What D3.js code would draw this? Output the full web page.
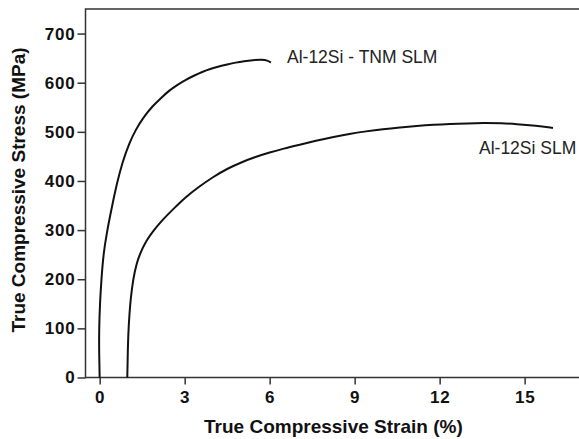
<!DOCTYPE html>
<html lang="en">
<head>
<meta charset="utf-8" />
<title>True compressive stress-strain</title>
<style>
  body { margin: 0; padding: 0; background: #fff; font-family: "Liberation Sans", Arial, sans-serif; }
  .axis path, .axis line { stroke: #333; stroke-width: 1.5px; }
  .axis text { font-family: "Liberation Sans", Arial, sans-serif; font-weight: bold; font-size: 17px; letter-spacing: 0.8px; fill: #111; }
  .curve { fill: none; stroke: #111; stroke-width: 2px; }
  .title { font-weight: bold; font-size: 19px; fill: #111; }
  .label { font-size: 17.5px; fill: #222; }
</style>
</head>
<body>
<div id="chart"></div>
<script src="https://d3js.org/d3.v7.min.js"></script>
<script>
// strain (%) and stress (MPa)
const tnmStrain = [0, -0.02, -0.02, 0.01, 0.06, 0.14, 0.25, 0.35, 0.45, 0.6, 0.8, 1.05, 1.27, 1.55, 1.86, 2.15, 2.45, 2.75, 3.04, 3.35, 3.62, 3.9, 4.21, 4.5, 4.8, 5.1, 5.39, 5.74, 5.92, 6.04];
const tnmStress = [0, 50, 100, 150, 200, 255, 293, 324, 352, 393, 438, 478, 504, 530, 552, 568, 584, 596, 606, 615, 622, 628, 633, 637, 641, 644, 646, 647, 645.5, 641];

const slmStrain = [0.975, 0.99, 1.01, 1.05, 1.09, 1.18, 1.3, 1.45, 1.65, 1.86, 2.1, 2.39, 2.7, 3.0, 3.5, 4.0, 4.5, 5.0, 5.5, 6.0, 6.5, 7.0, 7.65, 8.2, 8.82, 9.4, 10.0, 10.6, 11.18, 11.8, 12.35, 13.0, 13.53, 14.2, 14.7, 15.4, 16.0];
const slmStress = [0, 45, 90, 128, 158, 200, 232, 256, 279, 296, 313, 331, 348.5, 365.5, 388, 408, 425, 438, 449, 458, 466, 473, 482, 489, 496, 501, 505.5, 509, 512, 514.5, 516, 517.3, 518, 517.5, 516, 512.5, 508];

const xTicks = [0, 3, 6, 9, 12, 15];
const yTicks = [0, 100, 200, 300, 400, 500, 600, 700];

const width = 579, height = 439;
const m = { left: 85.5, top: 9, right: 581.3, bottom: 377.5 };

const svg = d3.select('#chart').append('svg')
    .attr('width', width)
    .attr('height', height);

const x = d3.scaleLinear().domain([-0.5, 17]).range([m.left, m.right]);
const y = d3.scaleLinear().domain([0, 750]).range([m.bottom, m.top]);

// frame
svg.append('rect')
    .attr('x', m.left).attr('y', m.top)
    .attr('width', m.right - m.left).attr('height', m.bottom - m.top)
    .attr('fill', 'none').attr('stroke', '#333').attr('stroke-width', 1.5);

svg.append('g')
    .attr('class', 'axis')
    .attr('transform', `translate(0,${m.bottom})`)
    .call(d3.axisBottom(x).tickValues(xTicks).tickSize(7).tickSizeOuter(0).tickPadding(6))
    .call(g => g.select('.domain').remove());

svg.append('g')
    .attr('class', 'axis')
    .attr('transform', `translate(${m.left},0)`)
    .call(d3.axisLeft(y).tickValues(yTicks).tickSize(8).tickSizeOuter(0).tickPadding(2))
    .call(g => g.select('.domain').remove());

const line = d3.line()
    .x(d => x(d[0]))
    .y(d => y(d[1]))
    .curve(d3.curveBasis);

svg.append('path')
    .attr('class', 'curve')
    .attr('d', line(d3.zip(tnmStrain, tnmStress)));

svg.append('path')
    .attr('class', 'curve')
    .attr('d', line(d3.zip(slmStrain, slmStress)));

svg.append('text')
    .attr('class', 'label')
    .attr('x', 287).attr('y', 62.5)
    .text('Al-12Si - TNM SLM');

svg.append('text')
    .attr('class', 'label')
    .attr('x', 479).attr('y', 154)
    .text('Al-12Si SLM');

svg.append('text')
    .attr('class', 'title')
    .attr('x', (m.left + m.right) / 2).attr('y', 433)
    .attr('text-anchor', 'middle')
    .text('True Compressive Strain (%)');

svg.append('text')
    .attr('class', 'title')
    .attr('transform', `translate(25,190) rotate(-90)`)
    .attr('text-anchor', 'middle')
    .text('True Compressive Stress (MPa)');
</script>
</body>
</html>
